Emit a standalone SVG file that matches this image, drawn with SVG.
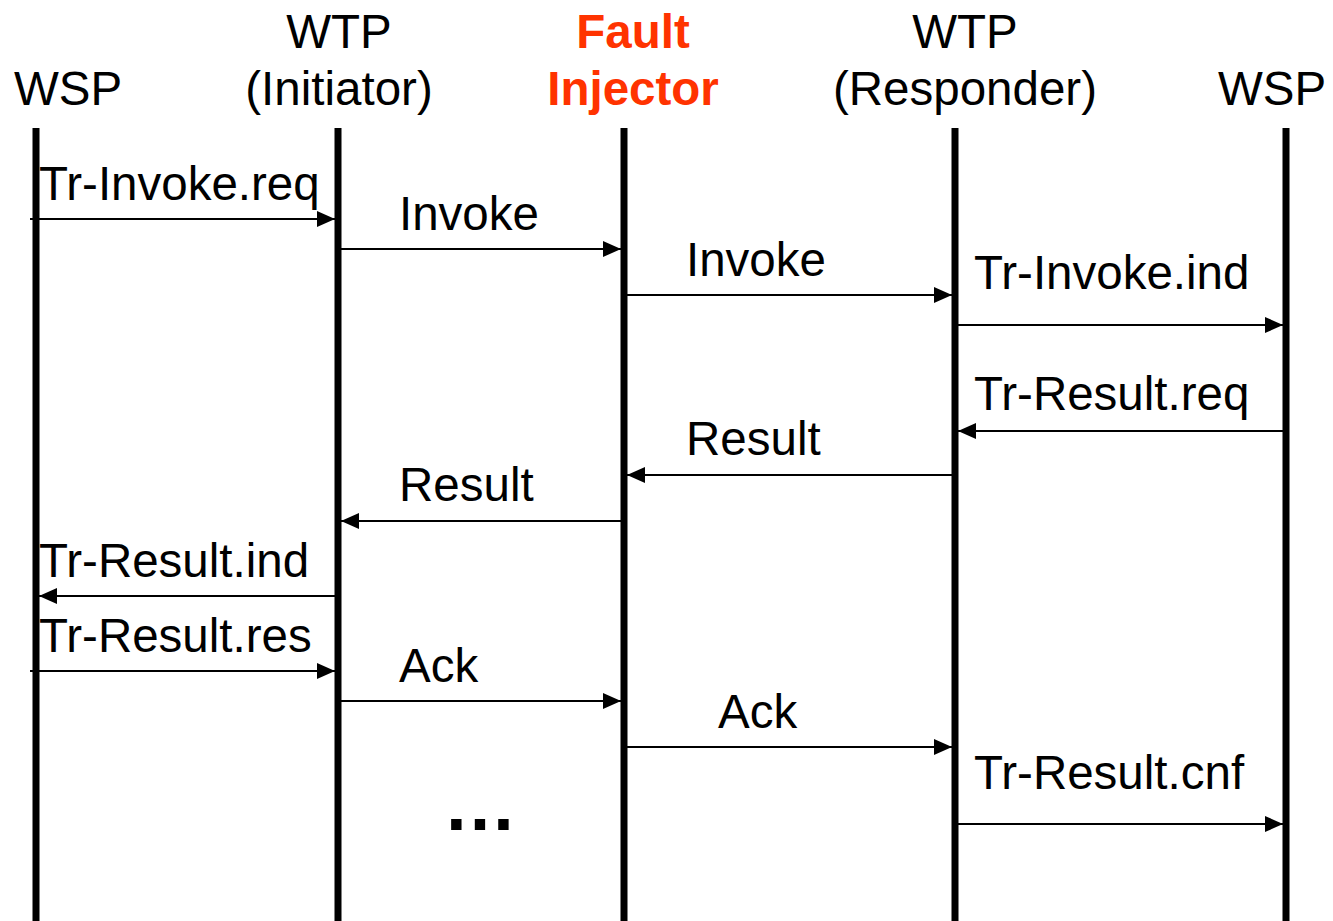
<svg xmlns="http://www.w3.org/2000/svg" width="1333" height="921" viewBox="0 0 1333 921">
  <defs>
    <marker id="arrow" markerWidth="18" markerHeight="16" refX="18" refY="8" orient="auto" markerUnits="userSpaceOnUse">
      <path d="M0,0 L18,8 L0,16 Z" fill="#000"/>
    </marker>
    <style>
      text { font-family: "Liberation Sans", Arial, sans-serif; font-size: 47.5px; fill: #000; }
      .hdr { text-anchor: middle; }
      .fi { fill: #FF3300; font-weight: bold; }
      .life { stroke: #000; stroke-width: 7; }
      .msg { stroke: #000; stroke-width: 2; fill: none; marker-end: url(#arrow); }
    </style>
  </defs>
  <rect width="1333" height="921" fill="#fff"/>

  <!-- participants -->
  <g id="wsp-left">
    <text class="hdr" x="68" y="105">WSP</text>
    <line class="life" x1="36" y1="128" x2="36" y2="921"/>
  </g>
  <g id="wtp-initiator">
    <text class="hdr" x="339" y="48">WTP</text>
    <text class="hdr" x="339" y="105">(Initiator)</text>
    <line class="life" x1="338" y1="128" x2="338" y2="921"/>
  </g>
  <g id="fault-injector">
    <text class="hdr fi" x="633" y="48">Fault</text>
    <text class="hdr fi" x="633" y="105">Injector</text>
    <line class="life" x1="624" y1="128" x2="624" y2="921"/>
  </g>
  <g id="wtp-responder">
    <text class="hdr" x="965" y="48">WTP</text>
    <text class="hdr" x="965" y="105">(Responder)</text>
    <line class="life" x1="955" y1="128" x2="955" y2="921"/>
  </g>
  <g id="wsp-right">
    <text class="hdr" x="1272" y="105">WSP</text>
    <line class="life" x1="1286" y1="128" x2="1286" y2="921"/>
  </g>

  <!-- messages -->
  <g id="connectors">
    <line class="msg" x1="30" y1="219" x2="335" y2="219"/>
    <line class="msg" x1="341" y1="249" x2="621" y2="249"/>
    <line class="msg" x1="627" y1="295" x2="952" y2="295"/>
    <line class="msg" x1="958" y1="325" x2="1283" y2="325"/>
    <line class="msg" x1="1283" y1="431" x2="958" y2="431"/>
    <line class="msg" x1="952" y1="475" x2="627" y2="475"/>
    <line class="msg" x1="621" y1="521" x2="341" y2="521"/>
    <line class="msg" x1="335" y1="596" x2="39" y2="596"/>
    <line class="msg" x1="30" y1="671" x2="335" y2="671"/>
    <line class="msg" x1="341" y1="701" x2="621" y2="701"/>
    <line class="msg" x1="627" y1="747" x2="952" y2="747"/>
    <line class="msg" x1="958" y1="824" x2="1283" y2="824"/>
  </g>

  <!-- message labels -->
  <g id="labels">
    <text x="39" y="200">Tr-Invoke.req</text>
    <text x="399" y="230">Invoke</text>
    <text x="686" y="276">Invoke</text>
    <text x="974" y="289">Tr-Invoke.ind</text>
    <text x="974" y="410">Tr-Result.req</text>
    <text x="686" y="455">Result</text>
    <text x="399" y="501">Result</text>
    <text x="39" y="577">Tr-Result.ind</text>
    <text x="39" y="652">Tr-Result.res</text>
    <text x="399" y="682">Ack</text>
    <text x="718" y="728">Ack</text>
    <text x="974" y="789">Tr-Result.cnf</text>
    <text x="443" y="830" style="font-size:74px;font-weight:bold">…</text>
  </g>
</svg>
